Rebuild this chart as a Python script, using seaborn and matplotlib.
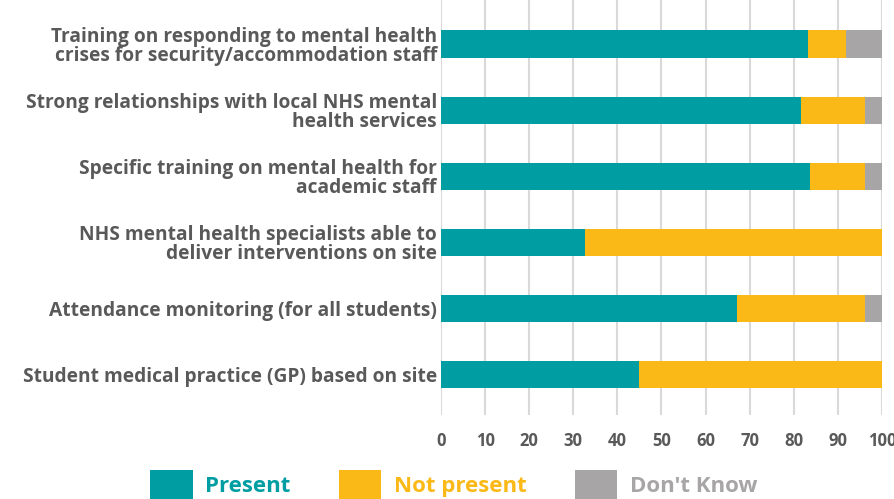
import numpy as np
import pandas as pd
import matplotlib
matplotlib.use("Agg")
import matplotlib.pyplot as plt
from matplotlib.patches import Patch
import seaborn as sns

# ── data ──────────────────────────────────────────────────────────────────────
categories = [
    "Training on responding to mental health\ncrises for security/accommodation staff",
    "Strong relationships with local NHS mental\nhealth services",
    "Specific training on mental health for\nacademic staff",
    "NHS mental health specialists able to\ndeliver interventions on site",
    "Attendance monitoring (for all students)",
    "Student medical practice (GP) based on site",
]
present = [83.3, 81.6, 83.7, 32.7, 67.1, 44.9]
not_present = [8.5, 14.5, 12.4, 67.3, 29.0, 55.1]
dont_know = [8.2, 3.9, 3.9, 0.0, 3.9, 0.0]
series_names = ["Present", "Not present", "Don't Know"]
colors = ["#009EA2", "#FBB918", "#A7A5A6"]
xticks = list(range(0, 101, 10))

TEXT = "#595959"

sns.set_theme(style="white")
plt.rcParams["font.family"] = ["Open Sans", "DejaVu Sans"]

df = pd.DataFrame({"category": categories, "Present": present,
                   "Not present": not_present, "Don't Know": dont_know})
cum = df[series_names].cumsum(axis=1)

fig = plt.figure(figsize=(8.95, 4.99), dpi=100)
ax = fig.add_axes([441 / 895, 84 / 499, 441 / 895, 415 / 499])

# stacked via overlapping cumulative bars (longest drawn first)
for name, col in reversed(list(zip(series_names, colors))):
    sns.barplot(x=cum[name], y=df["category"], orient="h", color=col,
                saturation=1, width=0.41, ax=ax, zorder=3,
                edgecolor="none", linewidth=0)

ax.set_xlim(0, 100)
ax.set_ylim(5.62, -0.667)
ax.set_xticks(xticks)
ax.set_xticklabels([str(t) for t in xticks], fontsize=12, fontweight="bold", color=TEXT)
ax.tick_params(axis="x", length=0, pad=12)
ax.tick_params(axis="y", length=0, pad=3)
for lbl in ax.get_yticklabels():
    lbl.set_fontsize(13.8)
    lbl.set_fontweight("bold")
    lbl.set_color(TEXT)
    lbl.set_horizontalalignment("right")
    lbl.set_multialignment("right")
    lbl.set_linespacing(0.95)
ax.set_xlabel("")
ax.set_ylabel("")
ax.xaxis.grid(True, color="#D9D9D9", linewidth=1.5, zorder=0)
ax.set_axisbelow(True)
for s in ax.spines.values():
    s.set_visible(False)

handles = [Patch(facecolor=c, edgecolor="none") for c in colors]
fig.legend(handles, series_names, loc="lower center", ncol=3,
           bbox_to_anchor=(0.507, -0.04), frameon=False,
           prop={"size": 16, "weight": "bold"}, labelcolor=colors,
           handlelength=1.9, handleheight=1.6, columnspacing=2.2,
           handletextpad=0.55)

fig.savefig("out.png", dpi=100)
